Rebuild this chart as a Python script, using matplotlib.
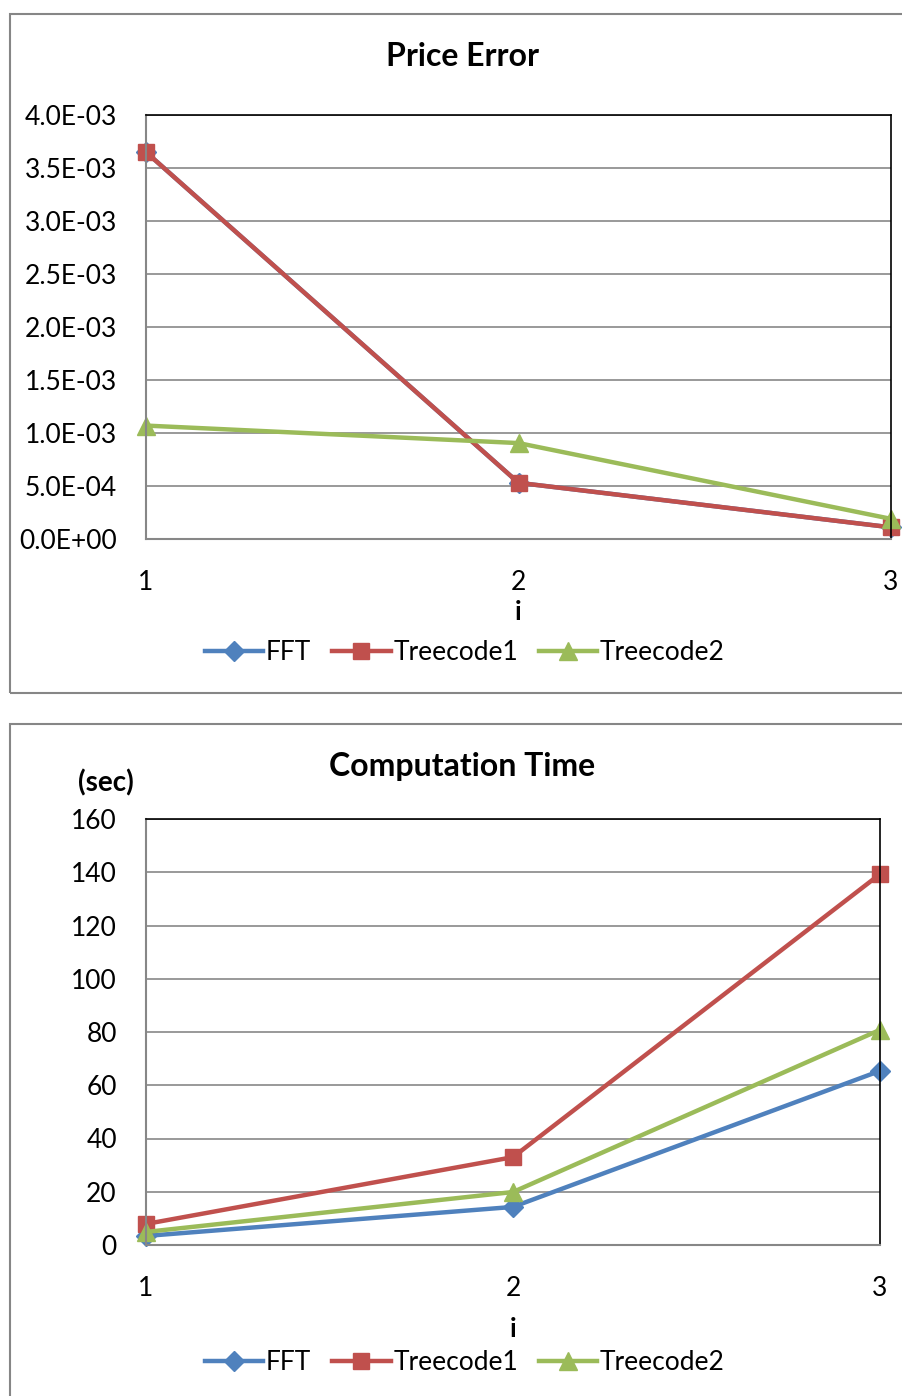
import matplotlib
matplotlib.use('Agg')
import matplotlib.pyplot as plt
from matplotlib.patches import Rectangle
from matplotlib.ticker import FuncFormatter

plt.rcParams['font.family'] = ['Lato', 'DejaVu Sans']

W, H = 902, 1396

x_vals = [1, 2, 3]
series_names = ['FFT', 'Treecode1', 'Treecode2']
colors = ['#4F81BD', '#C0504D', '#9BBB59']
markers = ['D', 's', '^']

err_fft = [3.65e-3, 5.3e-4, 1.1e-4]
err_tree1 = [3.65e-3, 5.3e-4, 1.1e-4]
err_tree2 = [1.07e-3, 9.05e-4, 1.9e-4]

time_fft = [3.4, 14.3, 65.4]
time_tree1 = [7.9, 33.0, 139.3]
time_tree2 = [4.9, 19.9, 80.8]

err_ticks = [0, 5e-4, 1e-3, 1.5e-3, 2e-3, 2.5e-3, 3e-3, 3.5e-3, 4e-3]
time_ticks = [0, 20, 40, 60, 80, 100, 120, 140, 160]

fig = plt.figure(figsize=(W / 100, H / 100), dpi=100)


def px_axes(left, top, right, bottom):
    return fig.add_axes([left / W, 1 - bottom / H, (right - left) / W, (bottom - top) / H])


def frame(left, top, right, bottom):
    fig.patches.append(Rectangle((left / W, 1 - bottom / H), (right - left) / W, (bottom - top) / H,
                                 transform=fig.transFigure, fill=False, edgecolor='#868686', linewidth=1.5))


def style(ax, ticks, ymax, fmt):
    ax.set_xlim(1, 3)
    ax.set_ylim(0, ymax)
    ax.set_xticks(x_vals)
    ax.set_yticks(ticks)
    ax.yaxis.set_major_formatter(FuncFormatter(fmt))
    ax.grid(axis='y', color='#878787', linewidth=1.2)
    ax.set_axisbelow(True)
    for s in ['left', 'bottom']:
        ax.spines[s].set_color('#878787')
        ax.spines[s].set_linewidth(1.5)
    for s in ['top', 'right']:
        ax.spines[s].set_color('black')
        ax.spines[s].set_linewidth(1.2)
    ax.tick_params(axis='both', length=0, labelsize=19)
    ax.tick_params(axis='y', pad=21)
    ax.tick_params(axis='x', pad=22)


def plot_series(ax, data):
    handles = []
    for vals, name, c, m in zip(data, series_names, colors, markers):
        ms = 11 if m == 's' else (13 if m == '^' else 10)
        h, = ax.plot(x_vals, vals, color=c, marker=m, markersize=ms, linewidth=3.2, label=name, clip_on=False)
        handles.append(h)
    return handles


def sci(v, pos):
    s = '%.1E' % v
    mant, exp = s.split('E')
    sign = exp[0]
    return '%sE%s%02d' % (mant, sign, abs(int(exp)))


# top chart
frame(10, 14, 920, 693)
ax1 = px_axes(146, 115, 891, 539)
h1 = plot_series(ax1, [err_fft, err_tree1, err_tree2])
style(ax1, err_ticks, 4e-3, sci)
ax1.set_xlabel('i', fontsize=19, fontweight='bold', labelpad=4)
fig.text(462 / W, 1 - 56 / H, 'Price Error', ha='center', va='center', fontsize=23, fontweight='bold')
fig.legend(handles=h1, loc='center', bbox_to_anchor=(465 / W, 1 - 653 / H), ncol=3, frameon=False,
           fontsize=19, handlelength=2.2, columnspacing=0.8, handletextpad=0.1)

# bottom chart
frame(10, 724, 920, 1420)
ax2 = px_axes(146, 819, 880, 1245)
h2 = plot_series(ax2, [time_fft, time_tree1, time_tree2])
style(ax2, time_ticks, 160, lambda v, p: '%d' % v)
ax2.set_xlabel('i', fontsize=19, fontweight='bold', labelpad=12)
fig.text(462 / W, 1 - 767 / H, 'Computation Time', ha='center', va='center', fontsize=23, fontweight='bold')
fig.text(106 / W, 1 - 783 / H, '(sec)', ha='center', va='center', fontsize=20, fontweight='bold')
fig.legend(handles=h2, loc='center', bbox_to_anchor=(465 / W, 1 - 1363 / H), ncol=3, frameon=False,
           fontsize=19, handlelength=2.2, columnspacing=0.8, handletextpad=0.1)

fig.savefig('out.png', dpi=100)
